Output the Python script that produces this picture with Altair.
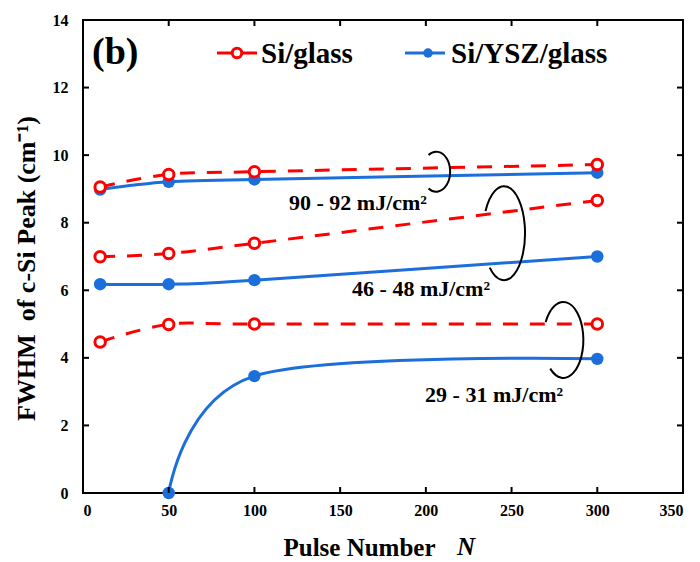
import math

import altair as alt
import pandas as pd

# ---- data -------------------------------------------------------------
pulses = [10, 50, 100, 300]
pulses_ysz_low = [50, 100, 300]

si_glass_90 = [9.06, 9.43, 9.51, 9.72]
si_glass_46 = [6.99, 7.09, 7.39, 8.66]
si_glass_29 = [4.47, 4.99, 5.00, 5.00]

si_ysz_90 = [8.98, 9.21, 9.28, 9.48]
si_ysz_46 = [6.18, 6.18, 6.30, 7.00]
si_ysz_29 = [0.00, 3.46, 3.97]

fluence_labels = ["90 - 92 mJ/cm²", "46 - 48 mJ/cm²", "29 - 31 mJ/cm²"]
series_names = ["Si/glass", "Si/YSZ/glass"]

x_ticks = [0, 50, 100, 150, 200, 250, 300, 350]
y_ticks = [0, 2, 4, 6, 8, 10, 12, 14]


def frame(xs, ys, series, fluence):
    return pd.DataFrame({"N": xs, "fwhm": ys, "series": series, "fluence": fluence})


glass_df = pd.concat([
    frame(pulses, si_glass_90, series_names[0], fluence_labels[0]),
    frame(pulses, si_glass_46, series_names[0], fluence_labels[1]),
    frame(pulses, si_glass_29, series_names[0], fluence_labels[2]),
])
ysz_df = pd.concat([
    frame(pulses, si_ysz_90, series_names[1], fluence_labels[0]),
    frame(pulses, si_ysz_46, series_names[1], fluence_labels[1]),
    frame(pulses_ysz_low, si_ysz_29, series_names[1], fluence_labels[2]),
])

# ---- styling ----------------------------------------------------------
W, H = 600, 473
FONT = "Liberation Serif"
RED = "#ff0000"
BLUE = "#1c6edb"

xscale = alt.Scale(domain=[0, 350], nice=False, zero=False)
yscale = alt.Scale(domain=[0, 14], nice=False, zero=False)

xaxis = alt.Axis(
    values=x_ticks, title="Pulse Number", tickSize=0, domain=False, grid=False,
    labelPadding=9, labelFont=FONT, labelFontWeight="bold", labelFontSize=16,
    labelColor="black", titleFont=FONT, titleFontWeight="bold", titleFontSize=25,
    titleColor="black", titleX=276, titleY=62, titleBaseline="alphabetic",
    titleAlign="center",
)
yaxis = alt.Axis(
    values=y_ticks, title="FWHM\u00a0\u00a0of c-Si Peak (cm⁻¹)", tickSize=0,
    domain=False, grid=False, labelPadding=15, labelFont=FONT,
    labelFontWeight="bold", labelFontSize=16, labelColor="black",
    titleFont=FONT, titleFontWeight="bold", titleFontSize=26, titleColor="black",
    titleAngle=-90, titleX=-57, titleY=248, titleBaseline="middle",
    titleAlign="center",
)


def X(field=None, datum=None):
    if datum is not None:
        return alt.X(datum=datum, scale=xscale, axis=xaxis)
    return alt.X(field, scale=xscale, axis=xaxis)


def Y(field=None, datum=None):
    if datum is not None:
        return alt.Y(datum=datum, scale=yscale, axis=yaxis)
    return alt.Y(field, scale=yscale, axis=yaxis)


one = pd.DataFrame({"k": [0]})

# ---- series -----------------------------------------------------------
ysz_line = alt.Chart(ysz_df).mark_line(
    interpolate="cardinal", color=BLUE, strokeWidth=3
).encode(x=X("N:Q"), y=Y("fwhm:Q"), detail="fluence:N")

ysz_pts = alt.Chart(ysz_df).mark_point(
    filled=True, color=BLUE, size=155, opacity=1
).encode(x=X("N:Q"), y=Y("fwhm:Q"))

glass_line = alt.Chart(glass_df).mark_line(
    interpolate="cardinal", color=RED, strokeWidth=3, strokeDash=[15, 12]
).encode(x=X("N:Q"), y=Y("fwhm:Q"), detail="fluence:N")

glass_pts = alt.Chart(glass_df).mark_point(
    filled=False, color=RED, fill="white", fillOpacity=1, size=110,
    strokeWidth=3, opacity=1
).encode(x=X("N:Q"), y=Y("fwhm:Q"))


# ---- fluence annotations: open rings around each pair -----------------
def ring_path(rx, ry, a0, a1):
    x0, y0 = rx * math.cos(math.radians(a0)), ry * math.sin(math.radians(a0))
    x1, y1 = rx * math.cos(math.radians(a1)), ry * math.sin(math.radians(a1))
    large = 1 if (a1 - a0) > 180 else 0
    return f"M{x0:.2f},{y0:.2f} A{rx},{ry} 0 {large} 1 {x1:.2f},{y1:.2f}"


rings = [
    (206, 9.51, ring_path(14, 20, -123, 123)),
    (245.6, 7.69, ring_path(21, 47, -152, 133)),
    (280.2, 4.53, ring_path(20, 38, -152, 131)),
]
ring_layers = [
    alt.Chart(one).mark_point(
        shape=path, size=4, filled=False, stroke="black", strokeWidth=2, opacity=1
    ).encode(x=X(datum=cx), y=Y(datum=cy))
    for cx, cy, path in rings
]

label_pos = [(160.4, 8.38), (197.2, 5.83), (239.8, 2.70)]
label_layers = [
    alt.Chart(one).mark_text(
        text=txt, font=FONT, fontWeight="bold", fontSize=22, color="black",
        align="center", baseline="alphabetic"
    ).encode(x=X(datum=lx), y=Y(datum=ly))
    for txt, (lx, ly) in zip(fluence_labels, label_pos)
]

# ---- inward tick marks on all four sides ------------------------------
xt = pd.DataFrame({"t": x_ticks})
yt = pd.DataFrame({"t": y_ticks})
tick_style = dict(color="black", strokeWidth=2)
ticks = [
    alt.Chart(xt).mark_rule(**tick_style).encode(
        x=X("t:Q"), y=alt.value(H), y2=alt.value(H - 6)),
    alt.Chart(xt).mark_rule(**tick_style).encode(
        x=X("t:Q"), y=alt.value(0), y2=alt.value(6)),
    alt.Chart(yt).mark_rule(**tick_style).encode(
        y=Y("t:Q"), x=alt.value(0), x2=alt.value(6)),
    alt.Chart(yt).mark_rule(**tick_style).encode(
        y=Y("t:Q"), x=alt.value(W - 6), x2=alt.value(W)),
]

# ---- legend, panel letter, italic N -----------------------------------
LEG_Y = 33
legend = [
    alt.Chart(one).mark_text(
        text="(b)", font=FONT, fontWeight="bold", fontSize=38, color="black",
        align="left", baseline="alphabetic"
    ).encode(x=alt.value(9), y=alt.value(44)),
    alt.Chart(one).mark_rule(color=RED, strokeWidth=3).encode(
        x=alt.value(134), x2=alt.value(174), y=alt.value(LEG_Y)),
    alt.Chart(one).mark_point(
        filled=False, color=RED, fill="white", fillOpacity=1, size=90,
        strokeWidth=3, opacity=1
    ).encode(x=alt.value(154), y=alt.value(LEG_Y)),
    alt.Chart(one).mark_text(
        text=series_names[0], font=FONT, fontWeight="bold", fontSize=29,
        color="black", align="left", baseline="alphabetic"
    ).encode(x=alt.value(178), y=alt.value(43)),
    alt.Chart(one).mark_rule(color=BLUE, strokeWidth=3).encode(
        x=alt.value(322), x2=alt.value(362), y=alt.value(LEG_Y)),
    alt.Chart(one).mark_point(
        filled=True, color=BLUE, size=90, opacity=1
    ).encode(x=alt.value(345), y=alt.value(LEG_Y)),
    alt.Chart(one).mark_text(
        text=series_names[1], font=FONT, fontWeight="bold", fontSize=29,
        color="black", align="left", baseline="alphabetic"
    ).encode(x=alt.value(368), y=alt.value(43)),
    alt.Chart(one).mark_text(
        text="N", font=FONT, fontWeight="bold", fontStyle="italic", fontSize=25,
        color="black", align="left", baseline="alphabetic"
    ).encode(x=alt.value(374), y=alt.value(H + 62)),
]

chart = alt.layer(
    ysz_line, ysz_pts, glass_line, glass_pts,
    *ring_layers, *label_layers, *ticks, *legend,
).properties(
    width=W, height=H,
    autosize=alt.AutoSizeParams(type="none"),
    padding={"left": 83, "top": 20, "right": 17, "bottom": 69},
    background="white",
).configure_view(
    stroke="black", strokeWidth=2
)

chart.save("out.html", embed_options={"renderer": "svg", "actions": False})
